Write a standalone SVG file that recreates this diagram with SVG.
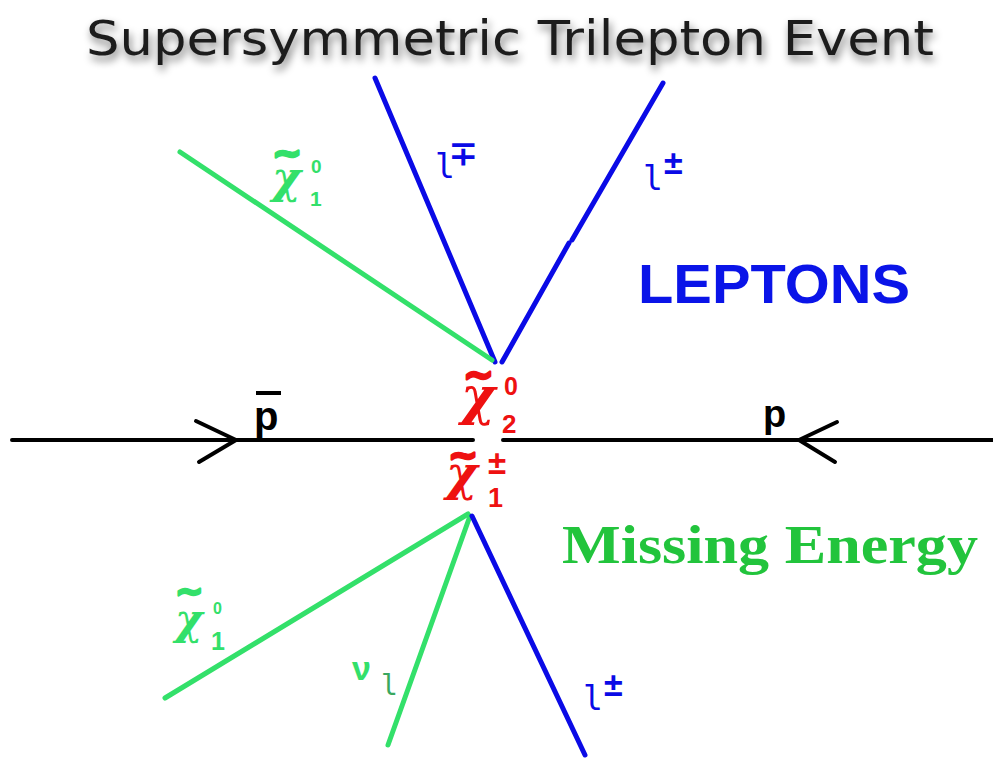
<svg xmlns="http://www.w3.org/2000/svg" width="993" height="759" viewBox="0 0 993 759">
<defs>
<filter id="shadow" x="-5%" y="-30%" width="110%" height="170%">
<feGaussianBlur in="SourceAlpha" stdDeviation="4"/>
<feOffset dx="2" dy="5" result="b"/>
<feComponentTransfer><feFuncA type="linear" slope="0.55"/></feComponentTransfer>
<feMerge><feMergeNode/><feMergeNode in="SourceGraphic"/></feMerge>
</filter>
<style>
.blue{stroke:#0a0ae6;stroke-width:5;fill:none;stroke-linecap:round}
.green{stroke:#33e06a;stroke-width:5;fill:none;stroke-linecap:round}
.black{stroke:#000;stroke-width:4;fill:none;stroke-linecap:round;stroke-linejoin:round}
.til{font-family:"DejaVu Sans",sans-serif;font-weight:bold;stroke-width:2.5;stroke-linejoin:round}
.chi{font-family:"DejaVu Serif",serif;font-style:italic;font-weight:bold}
.sm{font-family:"Liberation Sans",sans-serif;font-weight:bold;font-style:normal}
.ell{font-family:"DejaVu Sans Mono",monospace}
.r{fill:#ee1111}
.r .til{stroke:#ee1111}
.g{fill:#33e06a}
.g .til{stroke:#33e06a}
.b{fill:#0a0ae6}
</style>
</defs>
<rect width="993" height="759" fill="#fff"/>
<g id="title">
<text x="86" y="55" font-family="DejaVu Sans, sans-serif" font-size="48" fill="#1e1e1e" textLength="848" lengthAdjust="spacingAndGlyphs" filter="url(#shadow)">Supersymmetric Trilepton Event</text>
</g>
<g id="connectors">
<line class="blue" x1="375" y1="78" x2="495" y2="362"/>
<path class="blue" d="M663,83 L572,240 M569,243 L502,362"/>
<line class="green" x1="180" y1="152" x2="492" y2="360"/>
<path class="black" d="M12,440 L473,440 M503,440 L993,440"/>
<path class="black" d="M196,421 L236,440 L199,462"/>
<path class="black" d="M837,422 L799,440 L835,462"/>
<line class="green" x1="165" y1="698" x2="468" y2="514"/>
<line class="green" x1="470" y1="516" x2="388" y2="745"/>
<line class="blue" x1="472" y1="516" x2="585" y2="755"/>
</g>
<g id="chi10-top">
<text class="g"><tspan class="til" x="272" y="165" font-size="36">~</tspan><tspan class="chi" x="272" y="193" font-size="44">χ</tspan><tspan class="sm" x="311" y="173" font-size="19">0</tspan><tspan class="sm" x="310" y="206" font-size="21">1</tspan></text>
</g>
<g id="lepton-mp">
<text class="b"><tspan class="ell" x="435" y="178" font-size="33">l</tspan><tspan class="sm" x="449" y="165" font-size="34">∓</tspan></text>
</g>
<g id="lepton-pm-top">
<text class="b"><tspan class="ell" x="643" y="190" font-size="33">l</tspan><tspan class="sm" x="664" y="174" font-size="34">±</tspan></text>
</g>
<g id="leptons-label">
<text x="638" y="303" font-family="Liberation Sans, Arial, sans-serif" font-weight="bold" font-size="56" fill="#0a14e8" textLength="272" lengthAdjust="spacingAndGlyphs">LEPTONS</text>
</g>
<g id="chi20">
<text class="r"><tspan class="til" x="463" y="387" font-size="37">~</tspan><tspan class="chi" x="461" y="414" font-size="52">χ</tspan><tspan class="sm" x="504" y="395" font-size="25">0</tspan><tspan class="sm" x="502" y="433" font-size="26">2</tspan></text>
</g>
<g id="chi1pm">
<text class="r"><tspan class="til" x="448" y="467" font-size="36">~</tspan><tspan class="chi" x="446" y="490" font-size="48">χ</tspan><tspan class="sm" x="488" y="474" font-size="33">±</tspan><tspan class="sm" x="488" y="507" font-size="27">1</tspan></text>
</g>
<g id="pbar">
<text class="sm" x="254" y="430" font-size="40">p</text>
<line x1="256" y1="393" x2="281" y2="393" stroke="#000" stroke-width="4"/>
</g>
<g id="p">
<text class="sm" x="763" y="427" font-size="38">p</text>
</g>
<g id="missing-energy">
<text x="562" y="563" font-family="Liberation Serif, serif" font-weight="bold" font-size="54" fill="#22c43c" textLength="416" lengthAdjust="spacingAndGlyphs">Missing Energy</text>
</g>
<g id="chi10-bottom">
<text class="g"><tspan class="til" x="175" y="603" font-size="34">~</tspan><tspan class="chi" x="175" y="634" font-size="42">χ</tspan><tspan class="sm" x="213" y="614" font-size="16">0</tspan><tspan class="sm" x="211" y="650" font-size="25">1</tspan></text>
</g>
<g id="nu-l">
<text class="g"><tspan class="sm" x="352" y="680" font-size="34">ν</tspan><tspan class="ell" x="381" y="695" font-size="28" fill="#3aa860">l</tspan></text>
</g>
<g id="lepton-pm-bottom">
<text class="b"><tspan class="ell" x="583" y="710" font-size="33">l</tspan><tspan class="sm" x="604" y="696" font-size="34">±</tspan></text>
</g>
</svg>
